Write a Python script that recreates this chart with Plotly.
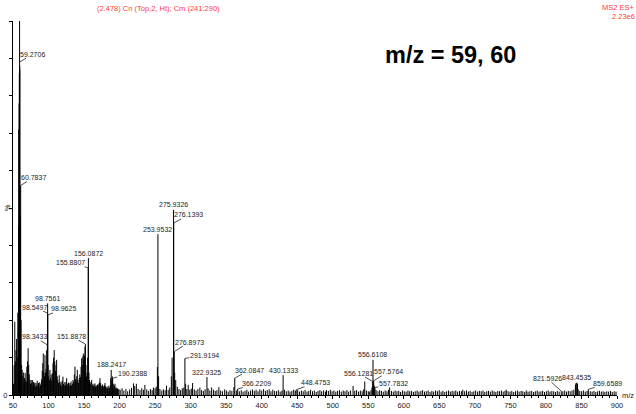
import plotly.graph_objects as go

# ---------------- data ----------------
# main (labelled and prominent) peaks: m/z and relative intensity (%)
PEAK_MZ = [57.9, 58.1, 58.6, 58.9, 59.2706, 59.45, 59.6, 60.2, 60.5, 60.7837, 61.4,
           98.3433, 98.5497, 98.7561, 98.9625,
           151.8878, 155.8807, 156.0872, 188.2417, 190.2388,
           253.2, 253.9532, 254.9, 272.8, 273.9, 275.9326, 276.1393, 276.8973, 277.5, 279.0,
           291.9194, 292.9, 322.9325, 362.0847, 366.2209, 430.1333, 448.4753,
           528.6, 545.0, 556.1281, 556.6108, 557.5764, 557.7832, 558.5,
           821.5926, 841.5, 842.4, 843.4535, 844.4, 845.4, 859.6589]
PEAK_PCT = [45, 71, 78, 86, 100, 88, 87, 40, 48, 56, 20,
            13.4, 21.9, 24.5, 21.4,
            13.6, 34, 36.6, 6.7, 4.5,
            7.5, 43, 5.0, 5.0, 10.0, 49.5, 46, 11.6, 6.0, 4.0,
            9.8, 3.0, 4.8, 4.5, 1.6, 5.3, 1.4,
            2.4, 3.6, 3.6, 9.4, 3.8, 1.9, 2.5,
            1.0, 2.8, 3.2, 3.3, 3.0, 1.5, 1.5]

# low-mass cluster of smaller peaks (50-200)
LOW_MZ = [50.8, 51.6, 52.5, 53.4, 54.2, 55.1, 56.0, 56.8, 57.5, 62.1, 62.9, 63.8, 64.6, 65.3,
          66.2, 67.1, 67.9, 68.7, 69.5, 70.4, 71.3, 72.1, 72.9, 73.8, 74.6, 75.5, 76.3, 77.2,
          78.0, 78.9, 79.8, 80.7, 81.5, 82.4, 83.3, 84.1, 85.0, 85.9, 86.8, 87.6, 88.5, 89.4,
          90.2, 91.1, 92.0, 92.6, 93.5, 94.3, 95.0, 95.8, 96.6, 97.4, 99.5, 100.3, 101.2, 102.0,
          102.9, 103.7, 104.5, 105.4, 106.3, 107.1, 108.0, 108.8, 109.6, 110.5, 111.4, 112.2,
          113.1, 114.0, 115.0, 115.9, 116.8, 117.6, 118.5, 119.4, 120.3, 121.2, 122.0, 122.9,
          123.8, 124.6, 125.5, 126.4, 127.2, 128.1, 129.0, 130.0, 130.9, 131.7, 132.6, 133.5,
          134.4, 135.3, 136.3, 137.2, 138.0, 138.9, 139.7, 140.5, 141.4, 142.3, 143.2, 144.0,
          144.9, 145.8, 146.6, 147.5, 148.3, 149.0, 149.8, 150.6, 151.3, 152.6, 153.5, 154.3,
          155.1, 156.9, 157.7, 158.6, 159.5, 160.7, 161.6, 162.5, 163.4, 164.4, 165.3, 166.2,
          167.1, 168.0, 169.0, 169.9, 170.8, 171.6, 172.4, 173.3, 174.2, 175.1, 176.0, 176.9,
          177.8, 178.6, 179.4, 180.3, 181.2, 182.1, 183.0, 184.0, 184.9, 185.8, 186.7, 187.5,
          189.1, 189.7, 191.0, 191.8, 192.6, 193.5, 194.4, 195.3, 196.2, 197.1, 198.0, 199.0]
LOW_PCT = [3.0, 8, 19.6, 9, 12, 15, 10, 22, 18, 8, 6.7, 5, 6, 3.5,
           4.5, 5.9, 4, 3.5, 7.6, 9, 12.5, 8, 5.5, 4, 3, 4, 3.2, 4,
           2.5, 3.5, 2.8, 3.3, 2.2, 3.2, 2.5, 3.8, 2.6, 3.2, 2.0, 3.4, 2.6, 3.0,
           4.2, 6.5, 8.5, 11.1, 6, 5.0, 10.7, 6, 7, 12, 8, 5, 4, 6.7,
           4.5, 5.5, 3.8, 5.8, 8.5, 10, 12, 9, 6.5, 8, 9.4, 5,
           4, 3.2, 5.3, 3.5, 2.8, 3.5, 2.5, 3.8, 4.9, 3.0, 2.4, 3.4,
           2.6, 3.5, 4.5, 3.0, 2.4, 3.3, 2.5, 3.2, 2.6, 3.6, 2.5, 3.0,
           4.0, 3.5, 5.5, 7.6, 4.2, 3.5, 5, 6.7, 4.0, 3.2, 4.5, 5.5,
           4.8, 7.5, 9.8, 8.0, 10.3, 11.1, 9.5, 10.5, 12.9, 8, 5, 6,
           10, 6, 4, 3, 3.4, 4.0, 2.6, 3.0, 2.4, 2.8, 3.1, 2.2,
           2.6, 2.2, 2.8, 2.4, 3.0, 3.4, 4.5, 3.2, 2.5, 2.2, 2.8, 2.0,
           2.4, 2.6, 3.2, 2.3, 1.8, 2.2, 1.8, 2.4, 1.8, 2.0, 2.6, 4.5,
           4, 5, 3.0, 2.2, 2.6, 3.0, 1.8, 2.0, 1.6, 1.8, 1.4, 1.6]

# baseline noise (200-900)
NOISE_MZ = [200.8, 203.5, 206.1, 208.9, 211.4, 214.2, 216.8, 219.5, 221.3, 223.6, 226.0, 228.7,
            231.2, 233.5, 235.6, 238.3, 240.9, 243.4, 245.8, 247.6, 249.9, 251.6, 256.8, 259.4,
            261.7, 264.1, 266.0, 268.4, 270.6, 281.2, 283.5, 285.9, 288.2, 290.4, 294.7, 296.6,
            298.8, 300.9, 302.7, 305.1, 307.6, 310.2, 313.0, 315.4, 317.9, 320.3, 324.5, 327.0,
            329.5, 332.1, 334.6, 337.0, 339.7, 342.2, 344.8, 347.9, 350.3, 352.8, 355.4, 358.0,
            360.8, 364.3, 368.5, 371.2, 373.8, 376.5, 379.1, 381.6, 384.3, 387.0, 389.6, 392.1,
            394.8, 397.4, 400.0, 402.7, 405.3, 407.8, 410.5, 413.0, 415.6, 418.2, 420.9, 423.4,
            426.0, 428.5, 432.0, 434.6, 437.3, 439.8, 442.4, 445.0, 447.2, 450.6, 453.1, 455.8,
            458.4, 461.0, 463.7, 466.2, 468.8, 471.5, 474.0, 476.7, 479.3, 481.9, 484.4, 487.1,
            489.7, 491.2, 493.8, 496.5, 499.0, 501.6, 504.3, 506.8, 509.4, 512.0, 514.7, 517.2,
            519.9, 522.4, 525.1, 531.0, 533.5, 536.2, 538.8, 541.3, 543.5, 547.4, 550.0, 552.0,
            553.8, 555.2, 559.4, 561.0, 563.6, 566.0, 568.5, 571.1, 573.7, 576.2, 578.3, 580.0,
            582.6, 585.2, 587.7, 590.3, 592.9, 595.4, 598.0, 600.6, 603.2, 605.8, 608.3, 610.9,
            613.5, 616.0, 618.7, 621.3, 624.0, 626.5, 629.1, 631.6, 634.2, 636.9, 639.5, 642.0,
            644.7, 647.2, 649.8, 652.5, 655.0, 657.6, 660.2, 662.9, 665.4, 668.0, 670.6, 673.1,
            675.7, 678.4, 681.0, 683.0, 685.6, 688.2, 690.8, 693.3, 696.0, 698.5, 701.1, 703.8,
            706.3, 708.9, 711.5, 714.0, 716.7, 719.2, 721.8, 724.4, 727.0, 729.5, 732.2, 734.7,
            737.3, 739.9, 742.4, 744.2, 746.8, 749.5, 752.0, 754.6, 757.2, 759.8, 762.3, 765.0,
            767.5, 770.1, 772.3, 774.8, 777.4, 780.0, 782.6, 785.1, 787.7, 790.3, 792.9, 795.4,
            798.0, 800.6, 803.2, 805.7, 808.3, 810.9, 813.4, 816.0, 818.6, 823.8, 826.4, 829.0,
            831.5, 834.1, 836.7, 839.2, 847.6, 850.2, 852.7, 855.3, 857.9, 862.4, 865.0, 867.6,
            870.2, 872.7, 875.3, 877.9, 880.5, 883.0, 885.6, 888.2, 890.8, 893.3, 896.0, 898.6]
NOISE_PCT = [1.4, 1.8, 1.2, 1.6, 1.0, 1.5, 1.9, 3.1, 2.4, 3.0, 1.6, 1.3,
             1.8, 1.4, 2.7, 1.5, 1.1, 1.6, 1.3, 2.0, 1.8, 2.2, 1.6, 1.2,
             1.5, 1.3, 2.5, 1.4, 2.0, 2.2, 1.6, 1.3, 1.8, 2.0, 1.6, 2.7,
             1.4, 1.7, 3.2, 1.5, 1.2, 1.6, 2.0, 1.3, 1.1, 1.5, 1.8, 1.2,
             2.0, 1.4, 1.1, 1.3, 2.1, 1.2, 1.0, 1.5, 1.2, 0.9, 1.3, 1.1,
             2.1, 1.2, 1.0, 1.3, 0.9, 1.1, 1.4, 0.9, 1.2, 1.5, 1.1, 1.4,
             1.0, 1.5, 1.2, 1.6, 1.1, 1.3, 1.5, 1.0, 1.4, 1.1, 1.0, 1.3,
             0.9, 1.2, 1.4, 1.0, 1.2, 0.9, 1.1, 1.4, 1.1, 1.3, 0.9, 1.2,
             1.0, 1.3, 0.9, 1.1, 1.4, 1.0, 1.2, 0.8, 1.1, 1.3, 1.0, 1.2,
             0.9, 1.3, 1.1, 1.4, 1.0, 1.2, 0.9, 1.1, 1.3, 0.9, 1.2, 1.0,
             1.3, 0.9, 1.2, 1.1, 1.3, 0.9, 1.2, 1.0, 1.5, 1.2, 1.0, 0.9,
             1.3, 2.0, 1.8, 1.3, 1.0, 1.3, 1.1, 0.9, 1.2, 1.0, 1.4, 2.0,
             1.1, 0.9, 1.2, 1.0, 1.1, 0.8, 1.2, 1.0, 0.9, 1.2, 1.0, 1.1,
             0.8, 1.0, 1.2, 0.9, 1.1, 1.3, 0.9, 1.0, 1.2, 0.8, 1.1, 0.9,
             1.2, 1.0, 1.3, 0.9, 1.1, 0.8, 1.0, 1.2, 0.9, 1.1, 1.0, 1.2,
             0.9, 1.1, 1.0, 1.4, 1.0, 1.2, 0.9, 1.1, 0.8, 1.0, 1.2, 0.9,
             1.1, 1.0, 1.2, 0.8, 1.0, 1.1, 0.9, 1.2, 1.0, 0.8, 1.1, 1.0,
             1.2, 0.9, 1.1, 1.4, 1.0, 0.9, 1.1, 0.8, 1.0, 1.2, 0.9, 1.1,
             1.0, 0.8, 1.2, 0.9, 1.0, 1.1, 0.8, 1.0, 1.2, 0.9, 1.0, 1.1,
             0.8, 1.0, 1.2, 0.9, 1.1, 1.0, 0.8, 1.1, 0.9, 1.0, 1.2, 0.9,
             1.1, 1.0, 1.2, 1.4, 1.1, 1.0, 1.2, 0.9, 1.1, 1.0, 0.9, 1.1,
             0.8, 1.0, 1.1, 0.9, 1.0, 0.8, 1.0, 0.9, 1.1, 0.8, 1.0, 0.9]

# peaks carrying an m/z label
LABELLED_MZ = [59.2706, 60.7837, 98.3433, 98.5497, 98.7561, 98.9625, 151.8878, 155.8807,
               156.0872, 188.2417, 190.2388, 253.9532, 275.9326, 276.1393, 276.8973,
               291.9194, 322.9325, 362.0847, 366.2209, 430.1333, 448.4753, 556.1281,
               556.6108, 557.5764, 557.7832, 821.5926, 843.4535, 859.6589]

X_TICKS = list(range(50, 901, 50))
Y_TICKS = list(range(0, 101, 10))
Y_TICKTEXT = ["0"] + [""] * 10

# ---------------- styling / placement ----------------
# leader-line labels: m/z -> (leader end intensity or None for peak top, dx px, dy px)
LEADERS = {59.2706: (89, 13, -8), 60.7837: (None, 12.5, -8), 98.3433: (None, -13, -8),
           98.5497: (None, -13.5, -6), 98.9625: (None, 15.5, -6), 151.8878: (None, -14, -8),
           155.8807: (None, -17.5, -5), 190.2388: (None, 19.5, -5), 276.1393: (None, 15, -8),
           276.8973: (None, 15, -9.5), 291.9194: (None, 19.5, -2.5), 362.0847: (None, 14.5, -8),
           366.2209: (None, 19, -5.5), 448.4753: (None, 19.5, -7), 556.1281: (None, -14.5, -8.5),
           557.5764: (None, 14.5, -9), 557.7832: (None, 19.5, -4.5), 821.5926: (None, -14, -13),
           859.6589: (None, 19, -6)}

FONT = "Liberation Sans, Arial, sans-serif"
LABEL_COLOR = "#222222"
RED = "#ff3b3b"

L, R, T, B = 13, 19, 21, 19
W, H = 636, 414
PW, PH = W - L - R, H - T - B


def px_to_paper(px, py):
    return (px - L) / PW, (H - B - py) / PH


all_mz = LOW_MZ + NOISE_MZ + PEAK_MZ
all_pct = LOW_PCT + NOISE_PCT + PEAK_PCT
xs, ys = [], []
for m, p in zip(all_mz, all_pct):
    xs += [m, m, None]
    ys += [0, p, None]

fig = go.Figure()
fig.add_trace(go.Scatter(x=xs, y=ys, mode="lines",
                         line=dict(color="black", width=1),
                         hoverinfo="skip", showlegend=False))

annotations = []
peak_lookup = dict(zip(PEAK_MZ, PEAK_PCT))
for m in LABELLED_MZ:
    txt = f"{m:.4f}"
    h = peak_lookup[m]
    if m in LEADERS:
        anc, dx, dy = LEADERS[m]
        annotations.append(dict(x=m, y=h if anc is None else anc, xref="x", yref="y",
                                text=txt, showarrow=True, arrowhead=0, arrowwidth=0.8,
                                arrowcolor=LABEL_COLOR, ax=dx, ay=dy, standoff=0,
                                borderpad=0,
                                font=dict(family=FONT, size=7, color=LABEL_COLOR)))
    else:
        annotations.append(dict(x=m, y=h, xref="x", yref="y", text=txt, showarrow=False,
                                xanchor="center", yanchor="middle", yshift=5, borderpad=0,
                                font=dict(family=FONT, size=7, color=LABEL_COLOR)))

# header texts
x, y = px_to_paper(158, 8.5)
annotations.append(dict(x=x, y=y, xref="paper", yref="paper", showarrow=False,
                        text="(2.478) Cn (Top,2, Ht); Cm (241:290)",
                        xanchor="center", yanchor="middle",
                        font=dict(family=FONT, size=7.5, color=RED)))
x, y = px_to_paper(635.5, 7.5)
annotations.append(dict(x=x, y=y, xref="paper", yref="paper", showarrow=False,
                        text="MS2 ES+", xanchor="right", yanchor="middle", borderpad=0,
                        font=dict(family=FONT, size=7.5, color=RED)))
x, y = px_to_paper(635.5, 16.8)
annotations.append(dict(x=x, y=y, xref="paper", yref="paper", showarrow=False,
                        text="2.23e6", xanchor="right", yanchor="middle", borderpad=0,
                        font=dict(family=FONT, size=7.5, color=RED)))
x, y = px_to_paper(450.5, 55)
annotations.append(dict(x=x, y=y, xref="paper", yref="paper", showarrow=False,
                        text="<b>m/z = 59, 60</b>", xanchor="center", yanchor="middle",
                        font=dict(family=FONT, size=23.5, color="black")))
x, y = px_to_paper(7, 208)
annotations.append(dict(x=x, y=y, xref="paper", yref="paper", showarrow=False,
                        text="%", textangle=-90, xanchor="center", yanchor="middle",
                        font=dict(family=FONT, size=7, color=LABEL_COLOR)))
x, y = px_to_paper(621, 395.5)
annotations.append(dict(x=x, y=y, xref="paper", yref="paper", showarrow=False,
                        text="m/z", xanchor="left", yanchor="middle", borderpad=0,
                        font=dict(family=FONT, size=7.5, color=LABEL_COLOR)))

fig.update_layout(
    width=W, height=H,
    margin=dict(l=L, r=R, t=T, b=B, pad=0, autoexpand=False),
    paper_bgcolor="white", plot_bgcolor="white",
    font=dict(family=FONT, size=7.5, color=LABEL_COLOR),
    annotations=annotations,
    xaxis=dict(range=[50, 900], showgrid=False, zeroline=False, showline=True,
               automargin=False,
               linecolor="black", linewidth=1, ticks="outside", ticklen=3,
               tickcolor="black", tickwidth=1, tickvals=X_TICKS,
               tickfont=dict(family=FONT, size=7.5, color=LABEL_COLOR),
               minor=dict(ticks="outside", ticklen=2, dtick=10, tick0=50,
                          tickcolor="black", tickwidth=1)),
    yaxis=dict(range=[0, 100], showgrid=False, zeroline=False, showline=True,
               automargin=False,
               linecolor="black", linewidth=1, ticks="outside", ticklen=3,
               tickcolor="black", tickwidth=1, tickvals=Y_TICKS, ticktext=Y_TICKTEXT,
               tickfont=dict(family=FONT, size=7.5, color=LABEL_COLOR)),
)

fig.write_html("out.html")
